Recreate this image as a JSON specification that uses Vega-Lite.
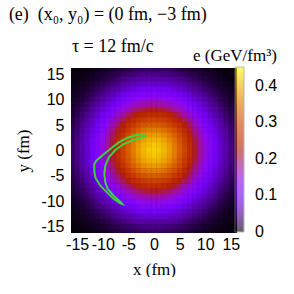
{
"$schema": "https://vega.github.io/schema/vega-lite/v6.json",
"width": 166, "height": 165,
"padding": {"left": 8, "top": 6, "right": 0, "bottom": 0},
"background": "white",
"config": {"view": {"stroke": null, "fill": "black"}, "font": "Liberation Sans"},
"title": {"text": "(e)\u00a0\u00a0(x₀, y₀) = (0 fm, −3 fm)", "subtitle": "\u200b\u00a0\u00a0\u00a0\u00a0\u00a0\u00a0\u00a0\u00a0\u00a0\u00a0\u00a0\u00a0\u00a0\u00a0τ = 12 fm/c", "anchor": "start", "frame": "bounds", "font": "Liberation Serif", "fontSize": 18, "fontWeight": "normal", "color": "black", "subtitleFont": "Liberation Serif", "subtitleFontSize": 18, "subtitleColor": "black", "subtitlePadding": 14, "offset": -8, "dx": -6},
"datasets": {
"grid": [
{"x":-16,"y":16,"e":0.002},{"x":-15,"y":16,"e":0.003},{"x":-14,"y":16,"e":0.004},{"x":-13,"y":16,"e":0.005},{"x":-12,"y":16,"e":0.007},{"x":-11,"y":16,"e":0.008},{"x":-10,"y":16,"e":0.010},{"x":-9,"y":16,"e":0.013},{"x":-8,"y":16,"e":0.015},{"x":-7,"y":16,"e":0.018},{"x":-6,"y":16,"e":0.020},{"x":-5,"y":16,"e":0.022},{"x":-4,"y":16,"e":0.025},{"x":-3,"y":16,"e":0.027},{"x":-2,"y":16,"e":0.028},{"x":-1,"y":16,"e":0.029},{"x":0,"y":16,"e":0.029},{"x":1,"y":16,"e":0.029},{"x":2,"y":16,"e":0.028},{"x":3,"y":16,"e":0.027},{"x":4,"y":16,"e":0.025},{"x":5,"y":16,"e":0.022},{"x":6,"y":16,"e":0.020},{"x":7,"y":16,"e":0.018},{"x":8,"y":16,"e":0.015},{"x":9,"y":16,"e":0.013},{"x":10,"y":16,"e":0.010},{"x":11,"y":16,"e":0.008},{"x":12,"y":16,"e":0.007},{"x":13,"y":16,"e":0.005},{"x":14,"y":16,"e":0.004},{"x":15,"y":16,"e":0.003},{"x":16,"y":16,"e":0.002},
{"x":-16,"y":15,"e":0.003},{"x":-15,"y":15,"e":0.004},{"x":-14,"y":15,"e":0.005},{"x":-13,"y":15,"e":0.007},{"x":-12,"y":15,"e":0.009},{"x":-11,"y":15,"e":0.011},{"x":-10,"y":15,"e":0.014},{"x":-9,"y":15,"e":0.017},{"x":-8,"y":15,"e":0.021},{"x":-7,"y":15,"e":0.024},{"x":-6,"y":15,"e":0.028},{"x":-5,"y":15,"e":0.031},{"x":-4,"y":15,"e":0.034},{"x":-3,"y":15,"e":0.037},{"x":-2,"y":15,"e":0.039},{"x":-1,"y":15,"e":0.040},{"x":0,"y":15,"e":0.040},{"x":1,"y":15,"e":0.040},{"x":2,"y":15,"e":0.039},{"x":3,"y":15,"e":0.037},{"x":4,"y":15,"e":0.034},{"x":5,"y":15,"e":0.031},{"x":6,"y":15,"e":0.028},{"x":7,"y":15,"e":0.024},{"x":8,"y":15,"e":0.021},{"x":9,"y":15,"e":0.017},{"x":10,"y":15,"e":0.014},{"x":11,"y":15,"e":0.011},{"x":12,"y":15,"e":0.009},{"x":13,"y":15,"e":0.007},{"x":14,"y":15,"e":0.005},{"x":15,"y":15,"e":0.004},{"x":16,"y":15,"e":0.003},
{"x":-16,"y":14,"e":0.004},{"x":-15,"y":14,"e":0.005},{"x":-14,"y":14,"e":0.007},{"x":-13,"y":14,"e":0.009},{"x":-12,"y":14,"e":0.012},{"x":-11,"y":14,"e":0.015},{"x":-10,"y":14,"e":0.019},{"x":-9,"y":14,"e":0.023},{"x":-8,"y":14,"e":0.028},{"x":-7,"y":14,"e":0.033},{"x":-6,"y":14,"e":0.037},{"x":-5,"y":14,"e":0.042},{"x":-4,"y":14,"e":0.046},{"x":-3,"y":14,"e":0.050},{"x":-2,"y":14,"e":0.052},{"x":-1,"y":14,"e":0.054},{"x":0,"y":14,"e":0.054},{"x":1,"y":14,"e":0.054},{"x":2,"y":14,"e":0.052},{"x":3,"y":14,"e":0.050},{"x":4,"y":14,"e":0.046},{"x":5,"y":14,"e":0.042},{"x":6,"y":14,"e":0.037},{"x":7,"y":14,"e":0.033},{"x":8,"y":14,"e":0.028},{"x":9,"y":14,"e":0.023},{"x":10,"y":14,"e":0.019},{"x":11,"y":14,"e":0.015},{"x":12,"y":14,"e":0.012},{"x":13,"y":14,"e":0.009},{"x":14,"y":14,"e":0.007},{"x":15,"y":14,"e":0.005},{"x":16,"y":14,"e":0.004},
{"x":-16,"y":13,"e":0.005},{"x":-15,"y":13,"e":0.007},{"x":-14,"y":13,"e":0.009},{"x":-13,"y":13,"e":0.012},{"x":-12,"y":13,"e":0.016},{"x":-11,"y":13,"e":0.020},{"x":-10,"y":13,"e":0.025},{"x":-9,"y":13,"e":0.031},{"x":-8,"y":13,"e":0.037},{"x":-7,"y":13,"e":0.043},{"x":-6,"y":13,"e":0.050},{"x":-5,"y":13,"e":0.056},{"x":-4,"y":13,"e":0.061},{"x":-3,"y":13,"e":0.066},{"x":-2,"y":13,"e":0.069},{"x":-1,"y":13,"e":0.071},{"x":0,"y":13,"e":0.072},{"x":1,"y":13,"e":0.071},{"x":2,"y":13,"e":0.069},{"x":3,"y":13,"e":0.066},{"x":4,"y":13,"e":0.061},{"x":5,"y":13,"e":0.056},{"x":6,"y":13,"e":0.050},{"x":7,"y":13,"e":0.043},{"x":8,"y":13,"e":0.037},{"x":9,"y":13,"e":0.031},{"x":10,"y":13,"e":0.025},{"x":11,"y":13,"e":0.020},{"x":12,"y":13,"e":0.016},{"x":13,"y":13,"e":0.012},{"x":14,"y":13,"e":0.009},{"x":15,"y":13,"e":0.007},{"x":16,"y":13,"e":0.005},
{"x":-16,"y":12,"e":0.007},{"x":-15,"y":12,"e":0.009},{"x":-14,"y":12,"e":0.012},{"x":-13,"y":12,"e":0.016},{"x":-12,"y":12,"e":0.021},{"x":-11,"y":12,"e":0.027},{"x":-10,"y":12,"e":0.033},{"x":-9,"y":12,"e":0.040},{"x":-8,"y":12,"e":0.048},{"x":-7,"y":12,"e":0.056},{"x":-6,"y":12,"e":0.064},{"x":-5,"y":12,"e":0.072},{"x":-4,"y":12,"e":0.079},{"x":-3,"y":12,"e":0.085},{"x":-2,"y":12,"e":0.090},{"x":-1,"y":12,"e":0.093},{"x":0,"y":12,"e":0.094},{"x":1,"y":12,"e":0.093},{"x":2,"y":12,"e":0.090},{"x":3,"y":12,"e":0.085},{"x":4,"y":12,"e":0.079},{"x":5,"y":12,"e":0.072},{"x":6,"y":12,"e":0.064},{"x":7,"y":12,"e":0.056},{"x":8,"y":12,"e":0.048},{"x":9,"y":12,"e":0.040},{"x":10,"y":12,"e":0.033},{"x":11,"y":12,"e":0.027},{"x":12,"y":12,"e":0.021},{"x":13,"y":12,"e":0.016},{"x":14,"y":12,"e":0.012},{"x":15,"y":12,"e":0.009},{"x":16,"y":12,"e":0.007},
{"x":-16,"y":11,"e":0.008},{"x":-15,"y":11,"e":0.011},{"x":-14,"y":11,"e":0.015},{"x":-13,"y":11,"e":0.020},{"x":-12,"y":11,"e":0.027},{"x":-11,"y":11,"e":0.034},{"x":-10,"y":11,"e":0.042},{"x":-9,"y":11,"e":0.051},{"x":-8,"y":11,"e":0.061},{"x":-7,"y":11,"e":0.071},{"x":-6,"y":11,"e":0.082},{"x":-5,"y":11,"e":0.092},{"x":-4,"y":11,"e":0.101},{"x":-3,"y":11,"e":0.108},{"x":-2,"y":11,"e":0.114},{"x":-1,"y":11,"e":0.118},{"x":0,"y":11,"e":0.119},{"x":1,"y":11,"e":0.118},{"x":2,"y":11,"e":0.114},{"x":3,"y":11,"e":0.108},{"x":4,"y":11,"e":0.101},{"x":5,"y":11,"e":0.092},{"x":6,"y":11,"e":0.082},{"x":7,"y":11,"e":0.071},{"x":8,"y":11,"e":0.061},{"x":9,"y":11,"e":0.051},{"x":10,"y":11,"e":0.042},{"x":11,"y":11,"e":0.034},{"x":12,"y":11,"e":0.027},{"x":13,"y":11,"e":0.020},{"x":14,"y":11,"e":0.015},{"x":15,"y":11,"e":0.011},{"x":16,"y":11,"e":0.008},
{"x":-16,"y":10,"e":0.010},{"x":-15,"y":10,"e":0.014},{"x":-14,"y":10,"e":0.019},{"x":-13,"y":10,"e":0.025},{"x":-12,"y":10,"e":0.033},{"x":-11,"y":10,"e":0.042},{"x":-10,"y":10,"e":0.052},{"x":-9,"y":10,"e":0.064},{"x":-8,"y":10,"e":0.076},{"x":-7,"y":10,"e":0.089},{"x":-6,"y":10,"e":0.102},{"x":-5,"y":10,"e":0.114},{"x":-4,"y":10,"e":0.125},{"x":-3,"y":10,"e":0.135},{"x":-2,"y":10,"e":0.142},{"x":-1,"y":10,"e":0.147},{"x":0,"y":10,"e":0.148},{"x":1,"y":10,"e":0.147},{"x":2,"y":10,"e":0.142},{"x":3,"y":10,"e":0.135},{"x":4,"y":10,"e":0.125},{"x":5,"y":10,"e":0.114},{"x":6,"y":10,"e":0.102},{"x":7,"y":10,"e":0.089},{"x":8,"y":10,"e":0.076},{"x":9,"y":10,"e":0.064},{"x":10,"y":10,"e":0.052},{"x":11,"y":10,"e":0.042},{"x":12,"y":10,"e":0.033},{"x":13,"y":10,"e":0.025},{"x":14,"y":10,"e":0.019},{"x":15,"y":10,"e":0.014},{"x":16,"y":10,"e":0.010},
{"x":-16,"y":9,"e":0.013},{"x":-15,"y":9,"e":0.017},{"x":-14,"y":9,"e":0.023},{"x":-13,"y":9,"e":0.031},{"x":-12,"y":9,"e":0.040},{"x":-11,"y":9,"e":0.051},{"x":-10,"y":9,"e":0.064},{"x":-9,"y":9,"e":0.078},{"x":-8,"y":9,"e":0.093},{"x":-7,"y":9,"e":0.108},{"x":-6,"y":9,"e":0.124},{"x":-5,"y":9,"e":0.139},{"x":-4,"y":9,"e":0.153},{"x":-3,"y":9,"e":0.164},{"x":-2,"y":9,"e":0.173},{"x":-1,"y":9,"e":0.179},{"x":0,"y":9,"e":0.181},{"x":1,"y":9,"e":0.179},{"x":2,"y":9,"e":0.173},{"x":3,"y":9,"e":0.164},{"x":4,"y":9,"e":0.153},{"x":5,"y":9,"e":0.139},{"x":6,"y":9,"e":0.124},{"x":7,"y":9,"e":0.108},{"x":8,"y":9,"e":0.093},{"x":9,"y":9,"e":0.078},{"x":10,"y":9,"e":0.064},{"x":11,"y":9,"e":0.051},{"x":12,"y":9,"e":0.040},{"x":13,"y":9,"e":0.031},{"x":14,"y":9,"e":0.023},{"x":15,"y":9,"e":0.017},{"x":16,"y":9,"e":0.013},
{"x":-16,"y":8,"e":0.015},{"x":-15,"y":8,"e":0.021},{"x":-14,"y":8,"e":0.028},{"x":-13,"y":8,"e":0.036},{"x":-12,"y":8,"e":0.048},{"x":-11,"y":8,"e":0.061},{"x":-10,"y":8,"e":0.076},{"x":-9,"y":8,"e":0.093},{"x":-8,"y":8,"e":0.111},{"x":-7,"y":8,"e":0.129},{"x":-6,"y":8,"e":0.148},{"x":-5,"y":8,"e":0.166},{"x":-4,"y":8,"e":0.183},{"x":-3,"y":8,"e":0.196},{"x":-2,"y":8,"e":0.207},{"x":-1,"y":8,"e":0.213},{"x":0,"y":8,"e":0.216},{"x":1,"y":8,"e":0.213},{"x":2,"y":8,"e":0.207},{"x":3,"y":8,"e":0.196},{"x":4,"y":8,"e":0.183},{"x":5,"y":8,"e":0.166},{"x":6,"y":8,"e":0.148},{"x":7,"y":8,"e":0.129},{"x":8,"y":8,"e":0.111},{"x":9,"y":8,"e":0.093},{"x":10,"y":8,"e":0.076},{"x":11,"y":8,"e":0.061},{"x":12,"y":8,"e":0.048},{"x":13,"y":8,"e":0.036},{"x":14,"y":8,"e":0.028},{"x":15,"y":8,"e":0.021},{"x":16,"y":8,"e":0.015},
{"x":-16,"y":7,"e":0.018},{"x":-15,"y":7,"e":0.024},{"x":-14,"y":7,"e":0.033},{"x":-13,"y":7,"e":0.043},{"x":-12,"y":7,"e":0.056},{"x":-11,"y":7,"e":0.071},{"x":-10,"y":7,"e":0.089},{"x":-9,"y":7,"e":0.108},{"x":-8,"y":7,"e":0.129},{"x":-7,"y":7,"e":0.151},{"x":-6,"y":7,"e":0.173},{"x":-5,"y":7,"e":0.194},{"x":-4,"y":7,"e":0.213},{"x":-3,"y":7,"e":0.230},{"x":-2,"y":7,"e":0.242},{"x":-1,"y":7,"e":0.250},{"x":0,"y":7,"e":0.252},{"x":1,"y":7,"e":0.250},{"x":2,"y":7,"e":0.242},{"x":3,"y":7,"e":0.230},{"x":4,"y":7,"e":0.213},{"x":5,"y":7,"e":0.194},{"x":6,"y":7,"e":0.173},{"x":7,"y":7,"e":0.151},{"x":8,"y":7,"e":0.129},{"x":9,"y":7,"e":0.108},{"x":10,"y":7,"e":0.089},{"x":11,"y":7,"e":0.071},{"x":12,"y":7,"e":0.056},{"x":13,"y":7,"e":0.043},{"x":14,"y":7,"e":0.033},{"x":15,"y":7,"e":0.024},{"x":16,"y":7,"e":0.018},
{"x":-16,"y":6,"e":0.020},{"x":-15,"y":6,"e":0.028},{"x":-14,"y":6,"e":0.037},{"x":-13,"y":6,"e":0.050},{"x":-12,"y":6,"e":0.064},{"x":-11,"y":6,"e":0.082},{"x":-10,"y":6,"e":0.102},{"x":-9,"y":6,"e":0.124},{"x":-8,"y":6,"e":0.148},{"x":-7,"y":6,"e":0.173},{"x":-6,"y":6,"e":0.198},{"x":-5,"y":6,"e":0.223},{"x":-4,"y":6,"e":0.244},{"x":-3,"y":6,"e":0.263},{"x":-2,"y":6,"e":0.277},{"x":-1,"y":6,"e":0.286},{"x":0,"y":6,"e":0.289},{"x":1,"y":6,"e":0.286},{"x":2,"y":6,"e":0.277},{"x":3,"y":6,"e":0.263},{"x":4,"y":6,"e":0.244},{"x":5,"y":6,"e":0.223},{"x":6,"y":6,"e":0.198},{"x":7,"y":6,"e":0.173},{"x":8,"y":6,"e":0.148},{"x":9,"y":6,"e":0.124},{"x":10,"y":6,"e":0.102},{"x":11,"y":6,"e":0.082},{"x":12,"y":6,"e":0.064},{"x":13,"y":6,"e":0.050},{"x":14,"y":6,"e":0.037},{"x":15,"y":6,"e":0.028},{"x":16,"y":6,"e":0.020},
{"x":-16,"y":5,"e":0.022},{"x":-15,"y":5,"e":0.031},{"x":-14,"y":5,"e":0.042},{"x":-13,"y":5,"e":0.056},{"x":-12,"y":5,"e":0.072},{"x":-11,"y":5,"e":0.092},{"x":-10,"y":5,"e":0.114},{"x":-9,"y":5,"e":0.139},{"x":-8,"y":5,"e":0.166},{"x":-7,"y":5,"e":0.194},{"x":-6,"y":5,"e":0.223},{"x":-5,"y":5,"e":0.250},{"x":-4,"y":5,"e":0.274},{"x":-3,"y":5,"e":0.295},{"x":-2,"y":5,"e":0.311},{"x":-1,"y":5,"e":0.320},{"x":0,"y":5,"e":0.324},{"x":1,"y":5,"e":0.320},{"x":2,"y":5,"e":0.311},{"x":3,"y":5,"e":0.295},{"x":4,"y":5,"e":0.274},{"x":5,"y":5,"e":0.250},{"x":6,"y":5,"e":0.223},{"x":7,"y":5,"e":0.194},{"x":8,"y":5,"e":0.166},{"x":9,"y":5,"e":0.139},{"x":10,"y":5,"e":0.114},{"x":11,"y":5,"e":0.092},{"x":12,"y":5,"e":0.072},{"x":13,"y":5,"e":0.056},{"x":14,"y":5,"e":0.042},{"x":15,"y":5,"e":0.031},{"x":16,"y":5,"e":0.022},
{"x":-16,"y":4,"e":0.025},{"x":-15,"y":4,"e":0.034},{"x":-14,"y":4,"e":0.046},{"x":-13,"y":4,"e":0.061},{"x":-12,"y":4,"e":0.079},{"x":-11,"y":4,"e":0.101},{"x":-10,"y":4,"e":0.125},{"x":-9,"y":4,"e":0.153},{"x":-8,"y":4,"e":0.183},{"x":-7,"y":4,"e":0.213},{"x":-6,"y":4,"e":0.244},{"x":-5,"y":4,"e":0.274},{"x":-4,"y":4,"e":0.301},{"x":-3,"y":4,"e":0.324},{"x":-2,"y":4,"e":0.341},{"x":-1,"y":4,"e":0.352},{"x":0,"y":4,"e":0.355},{"x":1,"y":4,"e":0.352},{"x":2,"y":4,"e":0.341},{"x":3,"y":4,"e":0.324},{"x":4,"y":4,"e":0.301},{"x":5,"y":4,"e":0.274},{"x":6,"y":4,"e":0.244},{"x":7,"y":4,"e":0.213},{"x":8,"y":4,"e":0.183},{"x":9,"y":4,"e":0.153},{"x":10,"y":4,"e":0.125},{"x":11,"y":4,"e":0.101},{"x":12,"y":4,"e":0.079},{"x":13,"y":4,"e":0.061},{"x":14,"y":4,"e":0.046},{"x":15,"y":4,"e":0.034},{"x":16,"y":4,"e":0.025},
{"x":-16,"y":3,"e":0.027},{"x":-15,"y":3,"e":0.037},{"x":-14,"y":3,"e":0.050},{"x":-13,"y":3,"e":0.066},{"x":-12,"y":3,"e":0.085},{"x":-11,"y":3,"e":0.108},{"x":-10,"y":3,"e":0.135},{"x":-9,"y":3,"e":0.164},{"x":-8,"y":3,"e":0.196},{"x":-7,"y":3,"e":0.230},{"x":-6,"y":3,"e":0.263},{"x":-5,"y":3,"e":0.295},{"x":-4,"y":3,"e":0.324},{"x":-3,"y":3,"e":0.348},{"x":-2,"y":3,"e":0.367},{"x":-1,"y":3,"e":0.379},{"x":0,"y":3,"e":0.382},{"x":1,"y":3,"e":0.379},{"x":2,"y":3,"e":0.367},{"x":3,"y":3,"e":0.348},{"x":4,"y":3,"e":0.324},{"x":5,"y":3,"e":0.295},{"x":6,"y":3,"e":0.263},{"x":7,"y":3,"e":0.230},{"x":8,"y":3,"e":0.196},{"x":9,"y":3,"e":0.164},{"x":10,"y":3,"e":0.135},{"x":11,"y":3,"e":0.108},{"x":12,"y":3,"e":0.085},{"x":13,"y":3,"e":0.066},{"x":14,"y":3,"e":0.050},{"x":15,"y":3,"e":0.037},{"x":16,"y":3,"e":0.027},
{"x":-16,"y":2,"e":0.028},{"x":-15,"y":2,"e":0.039},{"x":-14,"y":2,"e":0.052},{"x":-13,"y":2,"e":0.069},{"x":-12,"y":2,"e":0.090},{"x":-11,"y":2,"e":0.114},{"x":-10,"y":2,"e":0.142},{"x":-9,"y":2,"e":0.173},{"x":-8,"y":2,"e":0.207},{"x":-7,"y":2,"e":0.242},{"x":-6,"y":2,"e":0.277},{"x":-5,"y":2,"e":0.311},{"x":-4,"y":2,"e":0.341},{"x":-3,"y":2,"e":0.367},{"x":-2,"y":2,"e":0.386},{"x":-1,"y":2,"e":0.399},{"x":0,"y":2,"e":0.403},{"x":1,"y":2,"e":0.399},{"x":2,"y":2,"e":0.386},{"x":3,"y":2,"e":0.367},{"x":4,"y":2,"e":0.341},{"x":5,"y":2,"e":0.311},{"x":6,"y":2,"e":0.277},{"x":7,"y":2,"e":0.242},{"x":8,"y":2,"e":0.207},{"x":9,"y":2,"e":0.173},{"x":10,"y":2,"e":0.142},{"x":11,"y":2,"e":0.114},{"x":12,"y":2,"e":0.090},{"x":13,"y":2,"e":0.069},{"x":14,"y":2,"e":0.052},{"x":15,"y":2,"e":0.039},{"x":16,"y":2,"e":0.028},
{"x":-16,"y":1,"e":0.029},{"x":-15,"y":1,"e":0.040},{"x":-14,"y":1,"e":0.054},{"x":-13,"y":1,"e":0.071},{"x":-12,"y":1,"e":0.093},{"x":-11,"y":1,"e":0.118},{"x":-10,"y":1,"e":0.147},{"x":-9,"y":1,"e":0.179},{"x":-8,"y":1,"e":0.213},{"x":-7,"y":1,"e":0.250},{"x":-6,"y":1,"e":0.286},{"x":-5,"y":1,"e":0.320},{"x":-4,"y":1,"e":0.352},{"x":-3,"y":1,"e":0.379},{"x":-2,"y":1,"e":0.399},{"x":-1,"y":1,"e":0.411},{"x":0,"y":1,"e":0.416},{"x":1,"y":1,"e":0.411},{"x":2,"y":1,"e":0.399},{"x":3,"y":1,"e":0.379},{"x":4,"y":1,"e":0.352},{"x":5,"y":1,"e":0.320},{"x":6,"y":1,"e":0.286},{"x":7,"y":1,"e":0.250},{"x":8,"y":1,"e":0.213},{"x":9,"y":1,"e":0.179},{"x":10,"y":1,"e":0.147},{"x":11,"y":1,"e":0.118},{"x":12,"y":1,"e":0.093},{"x":13,"y":1,"e":0.071},{"x":14,"y":1,"e":0.054},{"x":15,"y":1,"e":0.040},{"x":16,"y":1,"e":0.029},
{"x":-16,"y":0,"e":0.029},{"x":-15,"y":0,"e":0.040},{"x":-14,"y":0,"e":0.054},{"x":-13,"y":0,"e":0.072},{"x":-12,"y":0,"e":0.094},{"x":-11,"y":0,"e":0.119},{"x":-10,"y":0,"e":0.148},{"x":-9,"y":0,"e":0.181},{"x":-8,"y":0,"e":0.216},{"x":-7,"y":0,"e":0.252},{"x":-6,"y":0,"e":0.289},{"x":-5,"y":0,"e":0.324},{"x":-4,"y":0,"e":0.355},{"x":-3,"y":0,"e":0.382},{"x":-2,"y":0,"e":0.403},{"x":-1,"y":0,"e":0.416},{"x":0,"y":0,"e":0.420},{"x":1,"y":0,"e":0.416},{"x":2,"y":0,"e":0.403},{"x":3,"y":0,"e":0.382},{"x":4,"y":0,"e":0.355},{"x":5,"y":0,"e":0.324},{"x":6,"y":0,"e":0.289},{"x":7,"y":0,"e":0.252},{"x":8,"y":0,"e":0.216},{"x":9,"y":0,"e":0.181},{"x":10,"y":0,"e":0.148},{"x":11,"y":0,"e":0.119},{"x":12,"y":0,"e":0.094},{"x":13,"y":0,"e":0.072},{"x":14,"y":0,"e":0.054},{"x":15,"y":0,"e":0.040},{"x":16,"y":0,"e":0.029},
{"x":-16,"y":-1,"e":0.029},{"x":-15,"y":-1,"e":0.040},{"x":-14,"y":-1,"e":0.054},{"x":-13,"y":-1,"e":0.071},{"x":-12,"y":-1,"e":0.093},{"x":-11,"y":-1,"e":0.118},{"x":-10,"y":-1,"e":0.147},{"x":-9,"y":-1,"e":0.179},{"x":-8,"y":-1,"e":0.213},{"x":-7,"y":-1,"e":0.250},{"x":-6,"y":-1,"e":0.286},{"x":-5,"y":-1,"e":0.320},{"x":-4,"y":-1,"e":0.352},{"x":-3,"y":-1,"e":0.379},{"x":-2,"y":-1,"e":0.399},{"x":-1,"y":-1,"e":0.411},{"x":0,"y":-1,"e":0.416},{"x":1,"y":-1,"e":0.411},{"x":2,"y":-1,"e":0.399},{"x":3,"y":-1,"e":0.379},{"x":4,"y":-1,"e":0.352},{"x":5,"y":-1,"e":0.320},{"x":6,"y":-1,"e":0.286},{"x":7,"y":-1,"e":0.250},{"x":8,"y":-1,"e":0.213},{"x":9,"y":-1,"e":0.179},{"x":10,"y":-1,"e":0.147},{"x":11,"y":-1,"e":0.118},{"x":12,"y":-1,"e":0.093},{"x":13,"y":-1,"e":0.071},{"x":14,"y":-1,"e":0.054},{"x":15,"y":-1,"e":0.040},{"x":16,"y":-1,"e":0.029},
{"x":-16,"y":-2,"e":0.028},{"x":-15,"y":-2,"e":0.039},{"x":-14,"y":-2,"e":0.052},{"x":-13,"y":-2,"e":0.069},{"x":-12,"y":-2,"e":0.090},{"x":-11,"y":-2,"e":0.114},{"x":-10,"y":-2,"e":0.142},{"x":-9,"y":-2,"e":0.173},{"x":-8,"y":-2,"e":0.207},{"x":-7,"y":-2,"e":0.242},{"x":-6,"y":-2,"e":0.277},{"x":-5,"y":-2,"e":0.311},{"x":-4,"y":-2,"e":0.341},{"x":-3,"y":-2,"e":0.367},{"x":-2,"y":-2,"e":0.386},{"x":-1,"y":-2,"e":0.399},{"x":0,"y":-2,"e":0.403},{"x":1,"y":-2,"e":0.399},{"x":2,"y":-2,"e":0.386},{"x":3,"y":-2,"e":0.367},{"x":4,"y":-2,"e":0.341},{"x":5,"y":-2,"e":0.311},{"x":6,"y":-2,"e":0.277},{"x":7,"y":-2,"e":0.242},{"x":8,"y":-2,"e":0.207},{"x":9,"y":-2,"e":0.173},{"x":10,"y":-2,"e":0.142},{"x":11,"y":-2,"e":0.114},{"x":12,"y":-2,"e":0.090},{"x":13,"y":-2,"e":0.069},{"x":14,"y":-2,"e":0.052},{"x":15,"y":-2,"e":0.039},{"x":16,"y":-2,"e":0.028},
{"x":-16,"y":-3,"e":0.027},{"x":-15,"y":-3,"e":0.037},{"x":-14,"y":-3,"e":0.050},{"x":-13,"y":-3,"e":0.066},{"x":-12,"y":-3,"e":0.085},{"x":-11,"y":-3,"e":0.108},{"x":-10,"y":-3,"e":0.135},{"x":-9,"y":-3,"e":0.164},{"x":-8,"y":-3,"e":0.196},{"x":-7,"y":-3,"e":0.230},{"x":-6,"y":-3,"e":0.263},{"x":-5,"y":-3,"e":0.295},{"x":-4,"y":-3,"e":0.324},{"x":-3,"y":-3,"e":0.348},{"x":-2,"y":-3,"e":0.367},{"x":-1,"y":-3,"e":0.379},{"x":0,"y":-3,"e":0.382},{"x":1,"y":-3,"e":0.379},{"x":2,"y":-3,"e":0.367},{"x":3,"y":-3,"e":0.348},{"x":4,"y":-3,"e":0.324},{"x":5,"y":-3,"e":0.295},{"x":6,"y":-3,"e":0.263},{"x":7,"y":-3,"e":0.230},{"x":8,"y":-3,"e":0.196},{"x":9,"y":-3,"e":0.164},{"x":10,"y":-3,"e":0.135},{"x":11,"y":-3,"e":0.108},{"x":12,"y":-3,"e":0.085},{"x":13,"y":-3,"e":0.066},{"x":14,"y":-3,"e":0.050},{"x":15,"y":-3,"e":0.037},{"x":16,"y":-3,"e":0.027},
{"x":-16,"y":-4,"e":0.025},{"x":-15,"y":-4,"e":0.034},{"x":-14,"y":-4,"e":0.046},{"x":-13,"y":-4,"e":0.061},{"x":-12,"y":-4,"e":0.079},{"x":-11,"y":-4,"e":0.101},{"x":-10,"y":-4,"e":0.125},{"x":-9,"y":-4,"e":0.153},{"x":-8,"y":-4,"e":0.183},{"x":-7,"y":-4,"e":0.213},{"x":-6,"y":-4,"e":0.244},{"x":-5,"y":-4,"e":0.274},{"x":-4,"y":-4,"e":0.301},{"x":-3,"y":-4,"e":0.324},{"x":-2,"y":-4,"e":0.341},{"x":-1,"y":-4,"e":0.352},{"x":0,"y":-4,"e":0.355},{"x":1,"y":-4,"e":0.352},{"x":2,"y":-4,"e":0.341},{"x":3,"y":-4,"e":0.324},{"x":4,"y":-4,"e":0.301},{"x":5,"y":-4,"e":0.274},{"x":6,"y":-4,"e":0.244},{"x":7,"y":-4,"e":0.213},{"x":8,"y":-4,"e":0.183},{"x":9,"y":-4,"e":0.153},{"x":10,"y":-4,"e":0.125},{"x":11,"y":-4,"e":0.101},{"x":12,"y":-4,"e":0.079},{"x":13,"y":-4,"e":0.061},{"x":14,"y":-4,"e":0.046},{"x":15,"y":-4,"e":0.034},{"x":16,"y":-4,"e":0.025},
{"x":-16,"y":-5,"e":0.022},{"x":-15,"y":-5,"e":0.031},{"x":-14,"y":-5,"e":0.042},{"x":-13,"y":-5,"e":0.056},{"x":-12,"y":-5,"e":0.072},{"x":-11,"y":-5,"e":0.092},{"x":-10,"y":-5,"e":0.114},{"x":-9,"y":-5,"e":0.139},{"x":-8,"y":-5,"e":0.166},{"x":-7,"y":-5,"e":0.194},{"x":-6,"y":-5,"e":0.223},{"x":-5,"y":-5,"e":0.250},{"x":-4,"y":-5,"e":0.274},{"x":-3,"y":-5,"e":0.295},{"x":-2,"y":-5,"e":0.311},{"x":-1,"y":-5,"e":0.320},{"x":0,"y":-5,"e":0.324},{"x":1,"y":-5,"e":0.320},{"x":2,"y":-5,"e":0.311},{"x":3,"y":-5,"e":0.295},{"x":4,"y":-5,"e":0.274},{"x":5,"y":-5,"e":0.250},{"x":6,"y":-5,"e":0.223},{"x":7,"y":-5,"e":0.194},{"x":8,"y":-5,"e":0.166},{"x":9,"y":-5,"e":0.139},{"x":10,"y":-5,"e":0.114},{"x":11,"y":-5,"e":0.092},{"x":12,"y":-5,"e":0.072},{"x":13,"y":-5,"e":0.056},{"x":14,"y":-5,"e":0.042},{"x":15,"y":-5,"e":0.031},{"x":16,"y":-5,"e":0.022},
{"x":-16,"y":-6,"e":0.020},{"x":-15,"y":-6,"e":0.028},{"x":-14,"y":-6,"e":0.037},{"x":-13,"y":-6,"e":0.050},{"x":-12,"y":-6,"e":0.064},{"x":-11,"y":-6,"e":0.082},{"x":-10,"y":-6,"e":0.102},{"x":-9,"y":-6,"e":0.124},{"x":-8,"y":-6,"e":0.148},{"x":-7,"y":-6,"e":0.173},{"x":-6,"y":-6,"e":0.198},{"x":-5,"y":-6,"e":0.223},{"x":-4,"y":-6,"e":0.244},{"x":-3,"y":-6,"e":0.263},{"x":-2,"y":-6,"e":0.277},{"x":-1,"y":-6,"e":0.286},{"x":0,"y":-6,"e":0.289},{"x":1,"y":-6,"e":0.286},{"x":2,"y":-6,"e":0.277},{"x":3,"y":-6,"e":0.263},{"x":4,"y":-6,"e":0.244},{"x":5,"y":-6,"e":0.223},{"x":6,"y":-6,"e":0.198},{"x":7,"y":-6,"e":0.173},{"x":8,"y":-6,"e":0.148},{"x":9,"y":-6,"e":0.124},{"x":10,"y":-6,"e":0.102},{"x":11,"y":-6,"e":0.082},{"x":12,"y":-6,"e":0.064},{"x":13,"y":-6,"e":0.050},{"x":14,"y":-6,"e":0.037},{"x":15,"y":-6,"e":0.028},{"x":16,"y":-6,"e":0.020},
{"x":-16,"y":-7,"e":0.018},{"x":-15,"y":-7,"e":0.024},{"x":-14,"y":-7,"e":0.033},{"x":-13,"y":-7,"e":0.043},{"x":-12,"y":-7,"e":0.056},{"x":-11,"y":-7,"e":0.071},{"x":-10,"y":-7,"e":0.089},{"x":-9,"y":-7,"e":0.108},{"x":-8,"y":-7,"e":0.129},{"x":-7,"y":-7,"e":0.151},{"x":-6,"y":-7,"e":0.173},{"x":-5,"y":-7,"e":0.194},{"x":-4,"y":-7,"e":0.213},{"x":-3,"y":-7,"e":0.230},{"x":-2,"y":-7,"e":0.242},{"x":-1,"y":-7,"e":0.250},{"x":0,"y":-7,"e":0.252},{"x":1,"y":-7,"e":0.250},{"x":2,"y":-7,"e":0.242},{"x":3,"y":-7,"e":0.230},{"x":4,"y":-7,"e":0.213},{"x":5,"y":-7,"e":0.194},{"x":6,"y":-7,"e":0.173},{"x":7,"y":-7,"e":0.151},{"x":8,"y":-7,"e":0.129},{"x":9,"y":-7,"e":0.108},{"x":10,"y":-7,"e":0.089},{"x":11,"y":-7,"e":0.071},{"x":12,"y":-7,"e":0.056},{"x":13,"y":-7,"e":0.043},{"x":14,"y":-7,"e":0.033},{"x":15,"y":-7,"e":0.024},{"x":16,"y":-7,"e":0.018},
{"x":-16,"y":-8,"e":0.015},{"x":-15,"y":-8,"e":0.021},{"x":-14,"y":-8,"e":0.028},{"x":-13,"y":-8,"e":0.036},{"x":-12,"y":-8,"e":0.048},{"x":-11,"y":-8,"e":0.061},{"x":-10,"y":-8,"e":0.076},{"x":-9,"y":-8,"e":0.093},{"x":-8,"y":-8,"e":0.111},{"x":-7,"y":-8,"e":0.129},{"x":-6,"y":-8,"e":0.148},{"x":-5,"y":-8,"e":0.166},{"x":-4,"y":-8,"e":0.183},{"x":-3,"y":-8,"e":0.196},{"x":-2,"y":-8,"e":0.207},{"x":-1,"y":-8,"e":0.213},{"x":0,"y":-8,"e":0.216},{"x":1,"y":-8,"e":0.213},{"x":2,"y":-8,"e":0.207},{"x":3,"y":-8,"e":0.196},{"x":4,"y":-8,"e":0.183},{"x":5,"y":-8,"e":0.166},{"x":6,"y":-8,"e":0.148},{"x":7,"y":-8,"e":0.129},{"x":8,"y":-8,"e":0.111},{"x":9,"y":-8,"e":0.093},{"x":10,"y":-8,"e":0.076},{"x":11,"y":-8,"e":0.061},{"x":12,"y":-8,"e":0.048},{"x":13,"y":-8,"e":0.036},{"x":14,"y":-8,"e":0.028},{"x":15,"y":-8,"e":0.021},{"x":16,"y":-8,"e":0.015},
{"x":-16,"y":-9,"e":0.013},{"x":-15,"y":-9,"e":0.017},{"x":-14,"y":-9,"e":0.023},{"x":-13,"y":-9,"e":0.031},{"x":-12,"y":-9,"e":0.040},{"x":-11,"y":-9,"e":0.051},{"x":-10,"y":-9,"e":0.064},{"x":-9,"y":-9,"e":0.078},{"x":-8,"y":-9,"e":0.093},{"x":-7,"y":-9,"e":0.108},{"x":-6,"y":-9,"e":0.124},{"x":-5,"y":-9,"e":0.139},{"x":-4,"y":-9,"e":0.153},{"x":-3,"y":-9,"e":0.164},{"x":-2,"y":-9,"e":0.173},{"x":-1,"y":-9,"e":0.179},{"x":0,"y":-9,"e":0.181},{"x":1,"y":-9,"e":0.179},{"x":2,"y":-9,"e":0.173},{"x":3,"y":-9,"e":0.164},{"x":4,"y":-9,"e":0.153},{"x":5,"y":-9,"e":0.139},{"x":6,"y":-9,"e":0.124},{"x":7,"y":-9,"e":0.108},{"x":8,"y":-9,"e":0.093},{"x":9,"y":-9,"e":0.078},{"x":10,"y":-9,"e":0.064},{"x":11,"y":-9,"e":0.051},{"x":12,"y":-9,"e":0.040},{"x":13,"y":-9,"e":0.031},{"x":14,"y":-9,"e":0.023},{"x":15,"y":-9,"e":0.017},{"x":16,"y":-9,"e":0.013},
{"x":-16,"y":-10,"e":0.010},{"x":-15,"y":-10,"e":0.014},{"x":-14,"y":-10,"e":0.019},{"x":-13,"y":-10,"e":0.025},{"x":-12,"y":-10,"e":0.033},{"x":-11,"y":-10,"e":0.042},{"x":-10,"y":-10,"e":0.052},{"x":-9,"y":-10,"e":0.064},{"x":-8,"y":-10,"e":0.076},{"x":-7,"y":-10,"e":0.089},{"x":-6,"y":-10,"e":0.102},{"x":-5,"y":-10,"e":0.114},{"x":-4,"y":-10,"e":0.125},{"x":-3,"y":-10,"e":0.135},{"x":-2,"y":-10,"e":0.142},{"x":-1,"y":-10,"e":0.147},{"x":0,"y":-10,"e":0.148},{"x":1,"y":-10,"e":0.147},{"x":2,"y":-10,"e":0.142},{"x":3,"y":-10,"e":0.135},{"x":4,"y":-10,"e":0.125},{"x":5,"y":-10,"e":0.114},{"x":6,"y":-10,"e":0.102},{"x":7,"y":-10,"e":0.089},{"x":8,"y":-10,"e":0.076},{"x":9,"y":-10,"e":0.064},{"x":10,"y":-10,"e":0.052},{"x":11,"y":-10,"e":0.042},{"x":12,"y":-10,"e":0.033},{"x":13,"y":-10,"e":0.025},{"x":14,"y":-10,"e":0.019},{"x":15,"y":-10,"e":0.014},{"x":16,"y":-10,"e":0.010},
{"x":-16,"y":-11,"e":0.008},{"x":-15,"y":-11,"e":0.011},{"x":-14,"y":-11,"e":0.015},{"x":-13,"y":-11,"e":0.020},{"x":-12,"y":-11,"e":0.027},{"x":-11,"y":-11,"e":0.034},{"x":-10,"y":-11,"e":0.042},{"x":-9,"y":-11,"e":0.051},{"x":-8,"y":-11,"e":0.061},{"x":-7,"y":-11,"e":0.071},{"x":-6,"y":-11,"e":0.082},{"x":-5,"y":-11,"e":0.092},{"x":-4,"y":-11,"e":0.101},{"x":-3,"y":-11,"e":0.108},{"x":-2,"y":-11,"e":0.114},{"x":-1,"y":-11,"e":0.118},{"x":0,"y":-11,"e":0.119},{"x":1,"y":-11,"e":0.118},{"x":2,"y":-11,"e":0.114},{"x":3,"y":-11,"e":0.108},{"x":4,"y":-11,"e":0.101},{"x":5,"y":-11,"e":0.092},{"x":6,"y":-11,"e":0.082},{"x":7,"y":-11,"e":0.071},{"x":8,"y":-11,"e":0.061},{"x":9,"y":-11,"e":0.051},{"x":10,"y":-11,"e":0.042},{"x":11,"y":-11,"e":0.034},{"x":12,"y":-11,"e":0.027},{"x":13,"y":-11,"e":0.020},{"x":14,"y":-11,"e":0.015},{"x":15,"y":-11,"e":0.011},{"x":16,"y":-11,"e":0.008},
{"x":-16,"y":-12,"e":0.007},{"x":-15,"y":-12,"e":0.009},{"x":-14,"y":-12,"e":0.012},{"x":-13,"y":-12,"e":0.016},{"x":-12,"y":-12,"e":0.021},{"x":-11,"y":-12,"e":0.027},{"x":-10,"y":-12,"e":0.033},{"x":-9,"y":-12,"e":0.040},{"x":-8,"y":-12,"e":0.048},{"x":-7,"y":-12,"e":0.056},{"x":-6,"y":-12,"e":0.064},{"x":-5,"y":-12,"e":0.072},{"x":-4,"y":-12,"e":0.079},{"x":-3,"y":-12,"e":0.085},{"x":-2,"y":-12,"e":0.090},{"x":-1,"y":-12,"e":0.093},{"x":0,"y":-12,"e":0.094},{"x":1,"y":-12,"e":0.093},{"x":2,"y":-12,"e":0.090},{"x":3,"y":-12,"e":0.085},{"x":4,"y":-12,"e":0.079},{"x":5,"y":-12,"e":0.072},{"x":6,"y":-12,"e":0.064},{"x":7,"y":-12,"e":0.056},{"x":8,"y":-12,"e":0.048},{"x":9,"y":-12,"e":0.040},{"x":10,"y":-12,"e":0.033},{"x":11,"y":-12,"e":0.027},{"x":12,"y":-12,"e":0.021},{"x":13,"y":-12,"e":0.016},{"x":14,"y":-12,"e":0.012},{"x":15,"y":-12,"e":0.009},{"x":16,"y":-12,"e":0.007},
{"x":-16,"y":-13,"e":0.005},{"x":-15,"y":-13,"e":0.007},{"x":-14,"y":-13,"e":0.009},{"x":-13,"y":-13,"e":0.012},{"x":-12,"y":-13,"e":0.016},{"x":-11,"y":-13,"e":0.020},{"x":-10,"y":-13,"e":0.025},{"x":-9,"y":-13,"e":0.031},{"x":-8,"y":-13,"e":0.037},{"x":-7,"y":-13,"e":0.043},{"x":-6,"y":-13,"e":0.050},{"x":-5,"y":-13,"e":0.056},{"x":-4,"y":-13,"e":0.061},{"x":-3,"y":-13,"e":0.066},{"x":-2,"y":-13,"e":0.069},{"x":-1,"y":-13,"e":0.071},{"x":0,"y":-13,"e":0.072},{"x":1,"y":-13,"e":0.071},{"x":2,"y":-13,"e":0.069},{"x":3,"y":-13,"e":0.066},{"x":4,"y":-13,"e":0.061},{"x":5,"y":-13,"e":0.056},{"x":6,"y":-13,"e":0.050},{"x":7,"y":-13,"e":0.043},{"x":8,"y":-13,"e":0.037},{"x":9,"y":-13,"e":0.031},{"x":10,"y":-13,"e":0.025},{"x":11,"y":-13,"e":0.020},{"x":12,"y":-13,"e":0.016},{"x":13,"y":-13,"e":0.012},{"x":14,"y":-13,"e":0.009},{"x":15,"y":-13,"e":0.007},{"x":16,"y":-13,"e":0.005},
{"x":-16,"y":-14,"e":0.004},{"x":-15,"y":-14,"e":0.005},{"x":-14,"y":-14,"e":0.007},{"x":-13,"y":-14,"e":0.009},{"x":-12,"y":-14,"e":0.012},{"x":-11,"y":-14,"e":0.015},{"x":-10,"y":-14,"e":0.019},{"x":-9,"y":-14,"e":0.023},{"x":-8,"y":-14,"e":0.028},{"x":-7,"y":-14,"e":0.033},{"x":-6,"y":-14,"e":0.037},{"x":-5,"y":-14,"e":0.042},{"x":-4,"y":-14,"e":0.046},{"x":-3,"y":-14,"e":0.050},{"x":-2,"y":-14,"e":0.052},{"x":-1,"y":-14,"e":0.054},{"x":0,"y":-14,"e":0.054},{"x":1,"y":-14,"e":0.054},{"x":2,"y":-14,"e":0.052},{"x":3,"y":-14,"e":0.050},{"x":4,"y":-14,"e":0.046},{"x":5,"y":-14,"e":0.042},{"x":6,"y":-14,"e":0.037},{"x":7,"y":-14,"e":0.033},{"x":8,"y":-14,"e":0.028},{"x":9,"y":-14,"e":0.023},{"x":10,"y":-14,"e":0.019},{"x":11,"y":-14,"e":0.015},{"x":12,"y":-14,"e":0.012},{"x":13,"y":-14,"e":0.009},{"x":14,"y":-14,"e":0.007},{"x":15,"y":-14,"e":0.005},{"x":16,"y":-14,"e":0.004},
{"x":-16,"y":-15,"e":0.003},{"x":-15,"y":-15,"e":0.004},{"x":-14,"y":-15,"e":0.005},{"x":-13,"y":-15,"e":0.007},{"x":-12,"y":-15,"e":0.009},{"x":-11,"y":-15,"e":0.011},{"x":-10,"y":-15,"e":0.014},{"x":-9,"y":-15,"e":0.017},{"x":-8,"y":-15,"e":0.021},{"x":-7,"y":-15,"e":0.024},{"x":-6,"y":-15,"e":0.028},{"x":-5,"y":-15,"e":0.031},{"x":-4,"y":-15,"e":0.034},{"x":-3,"y":-15,"e":0.037},{"x":-2,"y":-15,"e":0.039},{"x":-1,"y":-15,"e":0.040},{"x":0,"y":-15,"e":0.040},{"x":1,"y":-15,"e":0.040},{"x":2,"y":-15,"e":0.039},{"x":3,"y":-15,"e":0.037},{"x":4,"y":-15,"e":0.034},{"x":5,"y":-15,"e":0.031},{"x":6,"y":-15,"e":0.028},{"x":7,"y":-15,"e":0.024},{"x":8,"y":-15,"e":0.021},{"x":9,"y":-15,"e":0.017},{"x":10,"y":-15,"e":0.014},{"x":11,"y":-15,"e":0.011},{"x":12,"y":-15,"e":0.009},{"x":13,"y":-15,"e":0.007},{"x":14,"y":-15,"e":0.005},{"x":15,"y":-15,"e":0.004},{"x":16,"y":-15,"e":0.003},
{"x":-16,"y":-16,"e":0.002},{"x":-15,"y":-16,"e":0.003},{"x":-14,"y":-16,"e":0.004},{"x":-13,"y":-16,"e":0.005},{"x":-12,"y":-16,"e":0.007},{"x":-11,"y":-16,"e":0.008},{"x":-10,"y":-16,"e":0.010},{"x":-9,"y":-16,"e":0.013},{"x":-8,"y":-16,"e":0.015},{"x":-7,"y":-16,"e":0.018},{"x":-6,"y":-16,"e":0.020},{"x":-5,"y":-16,"e":0.022},{"x":-4,"y":-16,"e":0.025},{"x":-3,"y":-16,"e":0.027},{"x":-2,"y":-16,"e":0.028},{"x":-1,"y":-16,"e":0.029},{"x":0,"y":-16,"e":0.029},{"x":1,"y":-16,"e":0.029},{"x":2,"y":-16,"e":0.028},{"x":3,"y":-16,"e":0.027},{"x":4,"y":-16,"e":0.025},{"x":5,"y":-16,"e":0.022},{"x":6,"y":-16,"e":0.020},{"x":7,"y":-16,"e":0.018},{"x":8,"y":-16,"e":0.015},{"x":9,"y":-16,"e":0.013},{"x":10,"y":-16,"e":0.010},{"x":11,"y":-16,"e":0.008},{"x":12,"y":-16,"e":0.007},{"x":13,"y":-16,"e":0.005},{"x":14,"y":-16,"e":0.004},{"x":15,"y":-16,"e":0.003},{"x":16,"y":-16,"e":0.002}
],
"contour": [
{"o":0,"x":-1.50,"y":2.84},{"o":1,"x":-3.32,"y":3.10},{"o":2,"x":-5.27,"y":2.45},{"o":3,"x":-6.89,"y":1.59},{"o":4,"x":-8.53,"y":0.29},{"o":5,"x":-10.15,"y":-1.02},{"o":6,"x":-11.26,"y":-2.01},{"o":7,"x":-11.65,"y":-2.65},{"o":8,"x":-11.65,"y":-3.97},{"o":9,"x":-11.46,"y":-5.29},{"o":10,"x":-10.48,"y":-6.92},{"o":11,"x":-9.17,"y":-8.23},{"o":12,"x":-7.86,"y":-9.53},{"o":13,"x":-6.58,"y":-10.39},{"o":14,"x":-6.19,"y":-10.51},{"o":15,"x":-6.58,"y":-10.06},{"o":16,"x":-7.86,"y":-8.88},{"o":17,"x":-9.04,"y":-7.56},{"o":18,"x":-9.50,"y":-6.27},{"o":19,"x":-9.70,"y":-4.62},{"o":20,"x":-9.50,"y":-2.99},{"o":21,"x":-8.84,"y":-1.36},{"o":22,"x":-7.55,"y":0.10},{"o":23,"x":-5.91,"y":1.27},{"o":24,"x":-3.96,"y":2.06},{"o":25,"x":-2.34,"y":2.57},{"o":26,"x":-1.50,"y":2.84}
]
},
"encoding": {
"x": {"field": "x", "type": "quantitative", "scale": {"domain": [-16.2, 16.2], "nice": false, "zero": false},
 "axis": {"values": [-15,-10,-5,0,5,10,15], "labelExpr": "datum.value + ''", "ticks": false, "domain": false, "grid": false, "labelFont": "Liberation Sans", "labelFontSize": 16, "labelColor": "black", "labelPadding": 3, "labelFlush": false, "labelOverlap": false, "labelBound": false, "title": "x (fm)", "titleFont": "Liberation Serif", "titleFontSize": 17, "titleFontWeight": "normal", "titleColor": "black", "titlePadding": 9}},
"y": {"field": "y", "type": "quantitative", "scale": {"domain": [-16.2, 16.2], "nice": false, "zero": false},
 "axis": {"values": [-15,-10,-5,0,5,10,15], "labelExpr": "datum.value + ''", "ticks": false, "domain": false, "grid": false, "labelFont": "Liberation Sans", "labelFontSize": 16, "labelColor": "black", "labelPadding": 7, "labelFlush": false, "labelOverlap": false, "labelBound": false, "title": "y (fm)", "titleFont": "Liberation Serif", "titleFontSize": 17, "titleFontWeight": "normal", "titleColor": "black", "titlePadding": 8}}
},
"layer": [
{"data": {"name": "grid"},
 "mark": {"type": "point", "shape": "square", "filled": true, "size": 31, "opacity": 1, "strokeWidth": 0, "clip": true},
 "encoding": {
  "color": {"field": "e", "type": "quantitative",
   "scale": {"domain": [-0.001, 0.0452, 0.0904, 0.1356, 0.1808, 0.226, 0.2712, 0.3164, 0.3616, 0.4068, 0.452],
             "range": ["#000000", "#510096", "#7202f3", "#8c07f3", "#a11096", "#b42000", "#c63700", "#d55700", "#e48300", "#f2ba00", "#ffff00"],
             "interpolate": "rgb"},
   "legend": {"orient": "none", "legendX": 122, "legendY": -20, "direction": "vertical", "title": "e (GeV/fm³)", "titleFont": "Liberation Serif", "titleFontSize": 17, "titleFontWeight": "normal", "titleColor": "black", "titleAlign": "center", "titleAnchor": "start", "titlePadding": 2, "gradientLength": 165, "gradientThickness": 9, "gradientStrokeColor": "#888888", "gradientStrokeWidth": 1, "gradientOpacity": 0.62, "values": [0, 0.1, 0.2, 0.3, 0.4], "format": ".1~f", "labelFont": "Liberation Sans", "labelFontSize": 16, "labelColor": "black", "labelOffset": 11, "labelBaseline": "middle", "labelOverlap": false}
  }
 }},
{"data": {"name": "contour"},
 "mark": {"type": "line", "color": "#3fd23f", "strokeWidth": 2, "clip": true},
 "encoding": {"order": {"field": "o", "type": "quantitative"}}}
]
}
